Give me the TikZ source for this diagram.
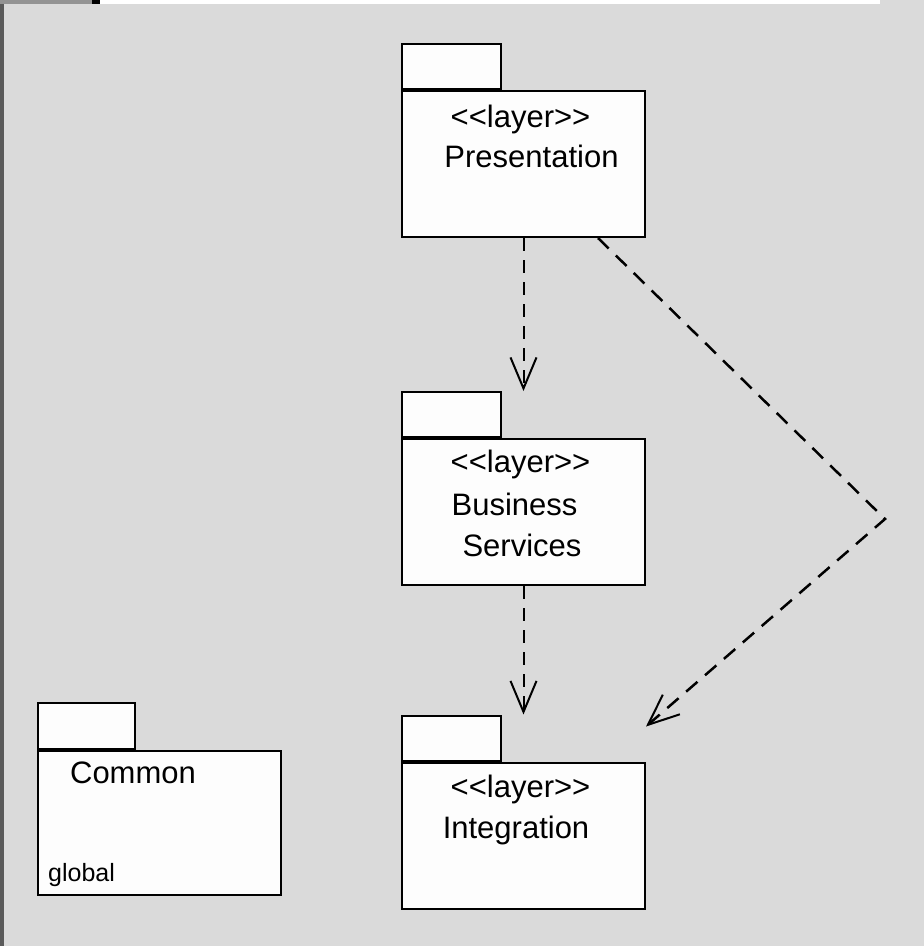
\documentclass[tikz,border=0pt]{standalone}
\usepackage{fontspec}
\setmainfont[Ligatures=NoCommon]{Liberation Sans}
\usetikzlibrary{arrows.meta}
\definecolor{bgc}{HTML}{DADADA}
\definecolor{boxc}{HTML}{FDFDFD}
\definecolor{edgec}{HTML}{5A5A5A}
\newcommand{\stereo}{{<}{<}layer{>}{>}}
\tikzset{
  pkgbody/.style={draw=black, fill=boxc, line width=2pt, inner sep=0pt, minimum width=243pt, minimum height=146pt},
  pkgtab/.style={draw=black, fill=boxc, line width=2pt, inner sep=0pt, minimum width=99pt, minimum height=45pt, anchor=south west},
  lbl/.style={inner sep=0pt, anchor=base, font=\fontsize{31}{37}\selectfont},
  small/.style={inner sep=0pt, anchor=base west, font=\fontsize{25}{30}\selectfont},
  dep/.style={draw=black, line width=2pt, dash pattern=on 13pt off 9pt, -{Straight Barb[length=31pt, width=26pt, line width=2pt]}},
}
\begin{document}
\begin{tikzpicture}[x=1pt, y=-1pt]
\useasboundingbox (0,0) rectangle (924,946);
\fill[bgc] (0,0) rectangle (924,946);
\fill[edgec] (0,0) rectangle (4,946);
\fill[gray!85] (0,0) rectangle (92,4);
\fill[black] (92,0) rectangle (100,4);
\fill[white] (100,0) rectangle (880,4);

% Presentation
\node[pkgbody] (pres) at (523.5,164) {};
\node[pkgtab] (prestab) at (pres.north west) {};
\node[lbl] (presst) at (520.5,127) {\stereo};
\node[lbl] (presname) at (531.5,167) {Presentation};

% Business Services
\node[pkgbody] (bus) at (523.5,512) {};
\node[pkgtab] (bustab) at (bus.north west) {};
\node[lbl] (busst) at (520.5,472) {\stereo};
\node[lbl] (busname1) at (514.5,515) {Business};
\node[lbl] (busname2) at (522,556) {Services};

% Integration
\node[pkgbody] (integ) at (523.5,835.5) {};
\node[pkgtab] (integtab) at (integ.north west) {};
\node[lbl] (integst) at (520.5,797) {\stereo};
\node[lbl] (integname) at (516,838) {Integration};

% Common
\node[pkgbody, minimum width=243pt, minimum height=144pt] (common) at (159.5,823) {};
\node[pkgtab, minimum width=97pt, minimum height=46pt] (commontab) at (common.north west) {};
\node[lbl] (commonname) at (133,783) {Common};
\node[small] (commonglobal) at (48,881) {global};

% dependencies
\draw[dep] (pres.south) -- (bustab.north east -| pres.south);
\draw[dep] (bus.south) -- (integtab.north east -| bus.south);
\coordinate (dstart) at ([xshift=-48pt]pres.south east);
\coordinate (dbend) at (885,519);
\coordinate (dend) at ([yshift=35pt]integ.north east);
\draw[dep, line width=2.5pt, dash pattern=on 15pt off 10pt] (dstart) -- (dbend) -- (dend);
\end{tikzpicture}
\end{document}
